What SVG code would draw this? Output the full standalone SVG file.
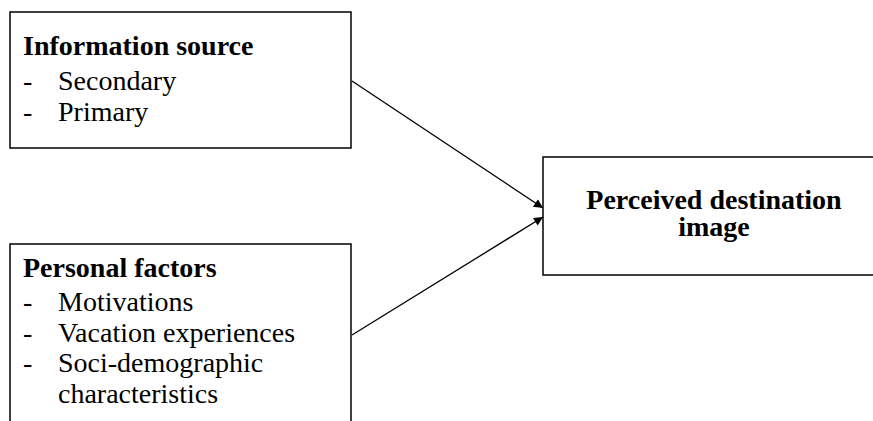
<svg xmlns="http://www.w3.org/2000/svg" width="873" height="421" viewBox="0 0 873 421">
<defs>
<style>
.box{fill:#fff;stroke:#000;stroke-width:1.5}
.t{font-family:"Liberation Serif","Times New Roman",serif;font-size:28px;fill:#000}
.b{font-weight:bold}
.c{stroke:#000;stroke-width:1.3;fill:none;marker-end:url(#ah)}
</style>
<marker id="ah" viewBox="0 0 10 10" refX="10" refY="5" markerWidth="10" markerHeight="9" markerUnits="userSpaceOnUse" orient="auto">
<path d="M0,0 L10,5 L0,10 Z" fill="#000"/>
</marker>
</defs>
<rect width="873" height="421" fill="#fff"/>
<g id="connectors">
<line class="c" x1="352" y1="81" x2="543" y2="208"/>
<line class="c" x1="352" y1="335" x2="543" y2="217"/>
</g>
<g id="info">
<rect class="box" x="10" y="12" width="341" height="136"/>
<text class="t b" x="23" y="55">Information source</text>
<text class="t" x="23" y="90">-</text>
<text class="t" x="58" y="90">Secondary</text>
<text class="t" x="23" y="121">-</text>
<text class="t" x="58" y="121">Primary</text>
</g>
<g id="personal">
<rect class="box" x="10" y="244" width="341" height="200"/>
<text class="t b" x="23" y="277">Personal factors</text>
<text class="t" x="23" y="311">-</text>
<text class="t" x="58" y="311">Motivations</text>
<text class="t" x="23" y="342">-</text>
<text class="t" x="58" y="342">Vacation experiences</text>
<text class="t" x="23" y="372">-</text>
<text class="t" x="58" y="372">Soci-demographic</text>
<text class="t" x="58" y="403">characteristics</text>
</g>
<g id="perceived">
<rect class="box" x="543" y="157" width="340" height="118"/>
<text class="t b" x="714" y="209" text-anchor="middle">Perceived destination</text>
<text class="t b" x="714" y="236" text-anchor="middle">image</text>
</g>
</svg>
